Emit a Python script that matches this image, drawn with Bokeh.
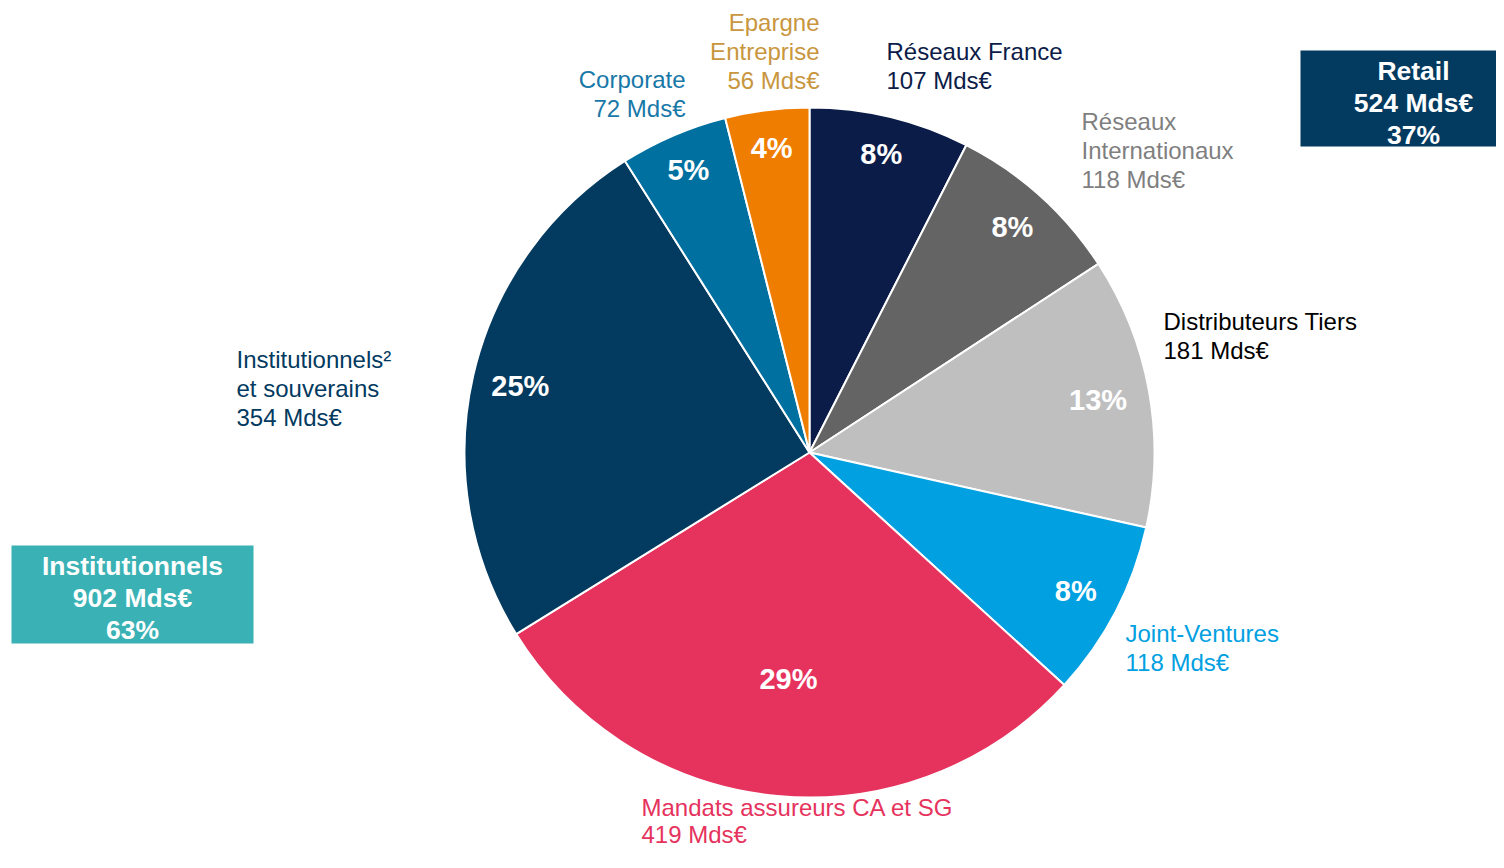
import math
from bokeh.plotting import figure
from bokeh.models import Range1d
from bokeh.core.properties import value
from bokeh.embed import file_html
from bokeh.resources import INLINE

# ---- data ----
segments = ["Réseaux France", "Réseaux Internationaux", "Distributeurs Tiers", "Joint-Ventures",
            "Mandats assureurs CA et SG", "Institutionnels et souverains", "Corporate", "Epargne Entreprise"]
amounts = [107, 118, 181, 118, 419, 354, 72, 56]
slice_colors = ["#0c1c48", "#646464", "#bfbfbf", "#00a0e1", "#e5335e", "#033a5f", "#0070a0", "#ef7d00"]

label_lines = [
    ["Réseaux France", "107 Mds€"],
    ["Réseaux", "Internationaux", "118 Mds€"],
    ["Distributeurs Tiers", "181 Mds€"],
    ["Joint-Ventures", "118 Mds€"],
    ["Mandats assureurs CA et SG", "419 Mds€"],
    ["Institutionnels²", "et souverains", "354 Mds€"],
    ["Corporate", "72 Mds€"],
    ["Epargne", "Entreprise", "56 Mds€"],
]
label_colors = ["#0c1c48", "#7f7f7f", "#000000", "#00a0e1", "#e5335e", "#033a5f", "#1878a8", "#c8963e"]

group_names = ["Retail", "Institutionnels"]
group_amounts = ["524 Mds€", "902 Mds€"]
group_pcts = ["37%", "63%"]
group_colors = ["#033a5f", "#3ab2b5"]

# ---- layout ----
W, H = 1496, 852
FONT = value("Liberation Sans")


def D(sx, sy):
    """picture pixel -> data coordinate"""
    return sx, H - sy


p = figure(width=W, height=H, output_backend="svg", toolbar_location=None,
           x_range=Range1d(0, W), y_range=Range1d(0, H), min_border=0)
p.axis.visible = False
p.grid.visible = False
p.outline_line_color = None
p.background_fill_color = "white"

cx, cy = D(809, 452)
R = 345
total = sum(amounts)

starts, ends, mids = [], [], []
cum = 0
for a in amounts:
    s = math.pi / 2 - cum / total * 2 * math.pi
    cum += a
    e = math.pi / 2 - cum / total * 2 * math.pi
    starts.append(s)
    ends.append(e)
    mids.append((s + e) / 2)

p.wedge(x=[cx] * len(amounts), y=[cy] * len(amounts), radius=R,
        start_angle=starts, end_angle=ends, direction="clock",
        fill_color=slice_colors, line_color="white", line_width=2)

# percentage labels inside slices
lab_r = [0.89, 0.88, 0.85, 0.87, 0.66, 0.86, 0.89, 0.89]
px, py, pt = [], [], []
for a, m, f in zip(amounts, mids, lab_r):
    px.append(cx + R * f * math.cos(m))
    py.append(cy + R * f * math.sin(m))
    pt.append(f"{round(a / total * 100)}%")
p.text(x=px, y=py, text=pt, text_color="white", text_font=FONT, text_font_style="bold",
       text_font_size="29px", text_align="center", text_baseline="middle")

# outer labels: (picture x of anchor, picture y of first line, align)
label_anchor = [
    (886, 51, "left"),
    (1081, 121, "left"),
    (1163, 321, "left"),
    (1125, 633, "left"),
    (641, 807, "left"),
    (236, 359, "left"),
    (685, 79, "right"),
    (819, 22, "right"),
]
LH = 28.8
for lines, col, (ax, ay, al) in zip(label_lines, label_colors, label_anchor):
    xs, ys = [], []
    for i, _ in enumerate(lines):
        x, y = D(ax, ay + i * (27 if ay > 800 else LH))
        xs.append(x)
        ys.append(y)
    p.text(x=xs, y=ys, text=lines, text_color=col, text_font=FONT, text_font_size="24px",
           text_align=al, text_baseline="middle")

# group boxes
boxes = [(1300, 50, 1504, 146), (11, 545, 253, 643)]
for (x0, y0, x1, y1), name, amt, pc, col in zip(boxes, group_names, group_amounts, group_pcts, group_colors):
    l, t = D(x0, y0)
    r, b = D(x1, y1)
    p.quad(left=l, right=r, top=t, bottom=b, fill_color=col, line_color=None)
    mx = (x0 + x1) / 2 if x1 <= W else 1413
    ys = [D(0, y0 + 20)[1], D(0, y0 + 52)[1], D(0, y0 + 84)[1]]
    p.text(x=[mx] * 3, y=ys, text=[name, amt, pc], text_color="white", text_font=FONT,
           text_font_style="bold", text_font_size="26.5px", text_align="center", text_baseline="middle")

open("out.html", "w").write(file_html(p, INLINE))
